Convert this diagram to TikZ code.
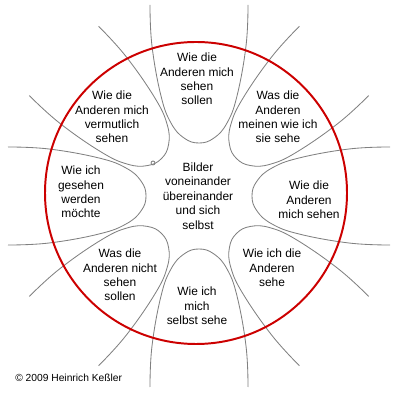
\documentclass[tikz,border=0pt]{standalone}
\usepackage{fontspec}
\setmainfont{Liberation Sans}
\definecolor{ringred}{RGB}{204,0,0}
\definecolor{petalgray}{RGB}{128,128,128}
\tikzset{
  petal/.style={petalgray, line width=0.6pt},
  ring/.style={ringred, line width=1.4pt},
  label/.style={align=center, inner sep=0pt, font=\fontsize{8.5}{10.3}\selectfont}
}
\begin{document}
\begin{tikzpicture}[x=0.025cm, y=0.025cm]
	\useasboundingbox (0,0) rectangle (400,400);
	
	% 1. acht Blaetter rund um die Mitte
	\foreach \ang in {0,45,...,315}{
		\draw[petal, shift={(199,204)}, rotate=\ang]
		plot[smooth, tension=0.7] coordinates {(191,-49) (150,-47) (100,-38) (73,-28) (58,-15) (53,0) (58,15) (73,28) (100,38) (150,47) (191,49)};
	}
	\draw[petal] (153,237) circle (2);
	
	% 2. roter Kreis
	\draw[ring] (196,207) circle (151);
	
	% 3. Beschriftungen
	\node[label] (oben) at (197,321) {Wie die\\Anderen mich\\sehen\\sollen};
	\node[label] (obenlinks) at (112,283) {Wie die\\Anderen mich\\vermutlich\\sehen};
	\node[label] (obenrechts) at (278,283) {Was die\\Anderen\\meinen wie ich\\sie sehe};
	\node[label] (links) at (81,208) {Wie ich\\gesehen\\werden\\möchte};
	\node[label] (mitte) at (198,204) {Bilder\\voneinander\\übereinander\\und sich\\selbst};
	\node[label] (rechts) at (309,200) {Wie die\\Anderen\\mich sehen};
	\node[label] (untenlinks) at (120,125) {Was die\\Anderen nicht\\sehen\\sollen};
	\node[label] (untenrechts) at (272,132) {Wie ich die\\Anderen\\sehe};
	\node[label] (unten) at (197,94) {Wie ich\\mich\\selbst sehe};
	
	\node[anchor=west, inner sep=0pt, font=\fontsize{7.3}{9}\selectfont] (copyright) at (15,22) {© 2009 Heinrich Keßler};
\end{tikzpicture}
\end{document}
